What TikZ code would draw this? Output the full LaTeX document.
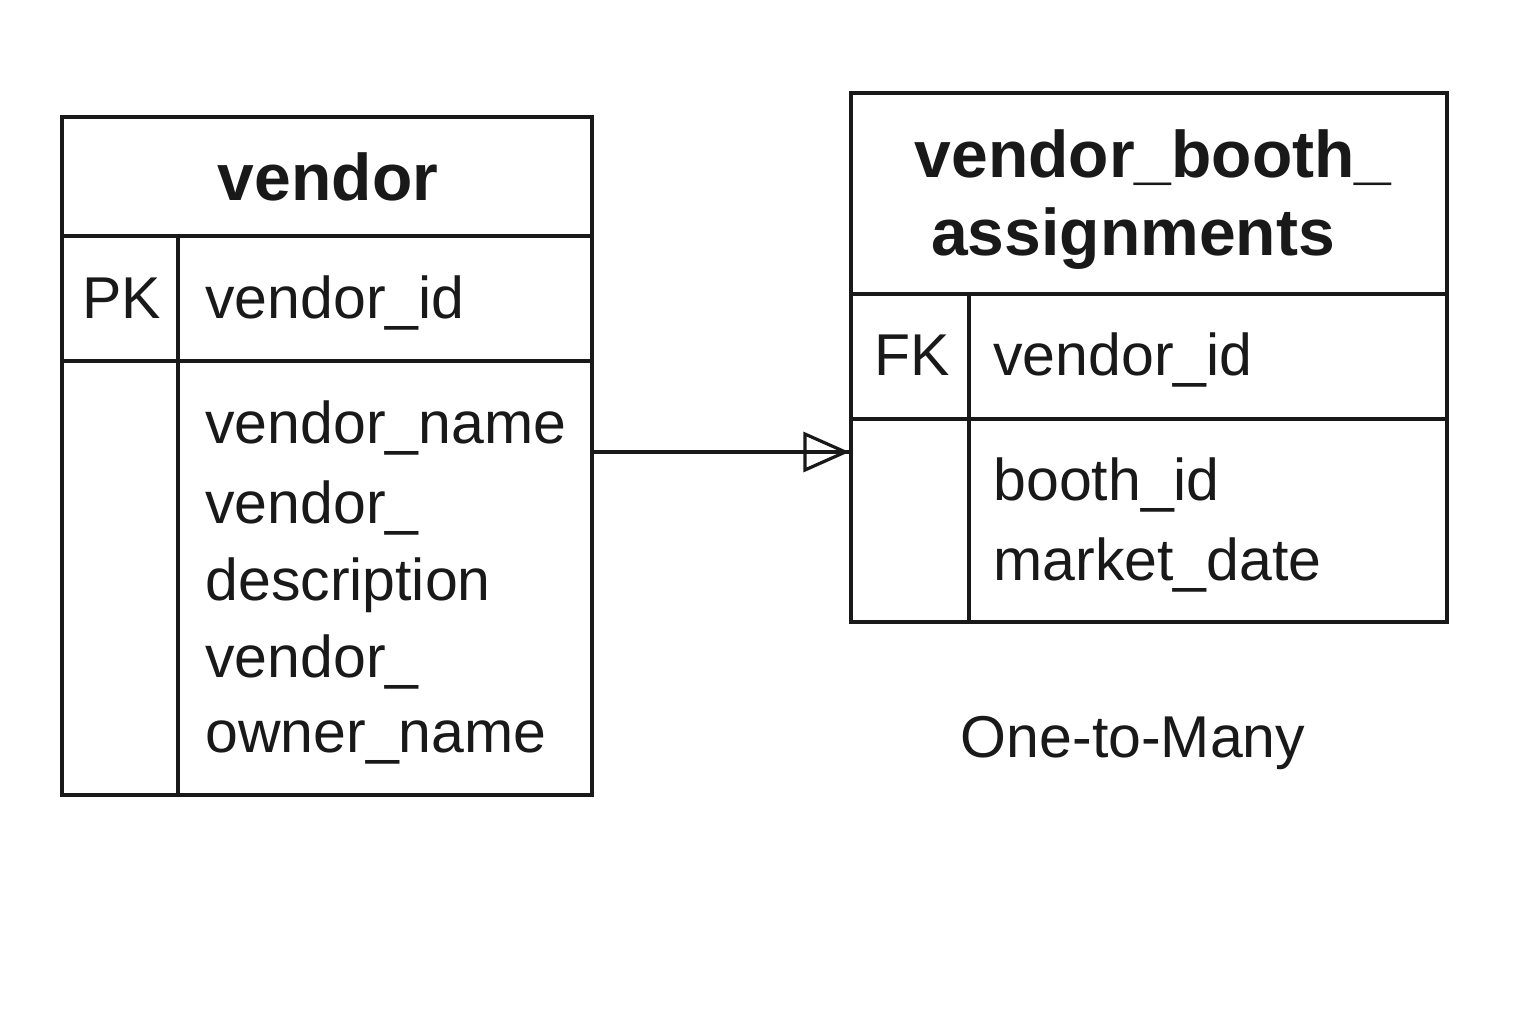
\documentclass[tikz,border=0pt]{standalone}
\usepackage{fontspec}
\setmainfont{Liberation Sans}
\usetikzlibrary{arrows.meta}
\tikzset{
  tbl/.style={draw=black!90, line width=1.6pt, rectangle, inner sep=0pt},
  sep/.style={draw=black!90, line width=1.6pt},
  fld/.style={anchor=base west, inner sep=0pt, text=black!90, font=\fontsize{29.5}{35}\selectfont},
  ttl/.style={anchor=base, inner sep=0pt, text=black!90, font=\fontsize{33}{38}\selectfont\bfseries},
  lbl/.style={anchor=base, inner sep=0pt, text=black!90, font=\fontsize{29.5}{35}\selectfont},
  rel/.style={draw=black!90, line width=1.6pt},
  relhead/.style={draw=black!90, line width=1.6pt, -{Triangle[open, length=23pt, width=20pt]}}
}
\begin{document}
\begin{tikzpicture}[x=0.5pt, y=-0.5pt]
\useasboundingbox[fill=white] (0,0) rectangle (1536,1024);
% vendor table
\node[tbl, minimum width=265pt, minimum height=339pt] (vendor) at (327,456) {};
\draw[sep] (62,236) -- (592,236);
\draw[sep] (62,361) -- (592,361);
\draw[sep] (178,236) -- (178,795);
\node[ttl] (vt) at (328,200) {vendor};
\node[fld] (pk) at (82,318) {PK};
\node[fld] (vid) at (205,318) {vendor\_id};
\node[fld] (vn) at (205,443) {vendor\_name};
\node[fld] (vd1) at (205,523) {vendor\_};
\node[fld] (vd2) at (205,600) {description};
\node[fld] (vo1) at (205,677) {vendor\_};
\node[fld] (vo2) at (205,752) {owner\_name};
% assignments table
\node[tbl, minimum width=298pt, minimum height=264.5pt] (assign) at (1149,357.5) {};
\draw[sep] (851,294) -- (1447,294);
\draw[sep] (851,419) -- (1447,419);
\draw[sep] (969,294) -- (969,622);
\node[ttl] (at1) at (1153,177) {vendor\_booth\_};
\node[ttl] (at2) at (1133,255) {assignments};
\node[fld] (fk) at (874,375) {FK};
\node[fld] (avid) at (993,375) {vendor\_id};
\node[fld] (bid) at (993,500) {booth\_id};
\node[fld] (md) at (993,580) {market\_date};
% relationship
\coordinate (ry) at (700,452);
\draw[rel] (vendor.east |- ry) -- (assign.west |- ry);
\draw[relhead] (vendor.east |- ry) -- (assign.west |- ry);
\node[lbl] (card) at (1133,757) {One-to-Many};
\end{tikzpicture}
\end{document}
